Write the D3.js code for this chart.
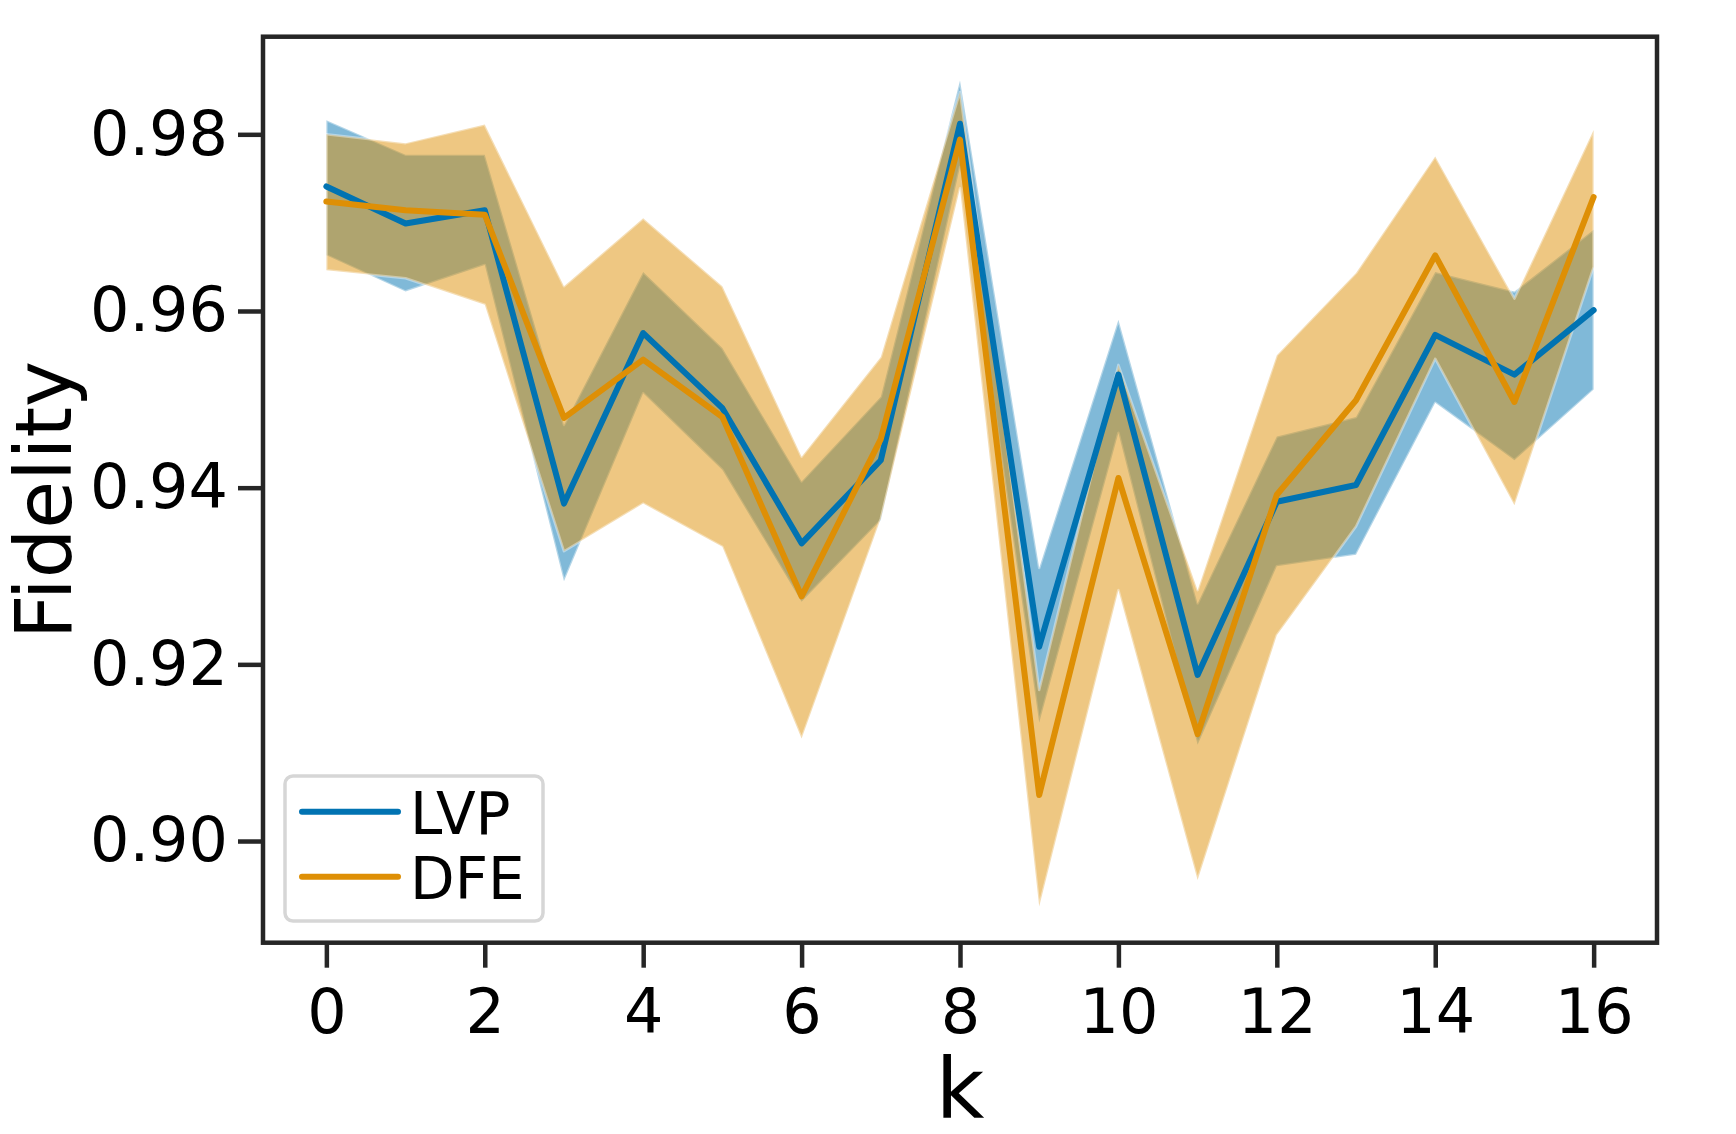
<!DOCTYPE html>
<html>
<head>
<meta charset="utf-8">
<script src="https://cdn.jsdelivr.net/npm/d3@7"></script>
<style>
  html, body { margin: 0; padding: 0; background: #fff; }
  svg { display: block; }
</style>
</head>
<body>
<div id="chart"></div>
<script>
const WIDTH = 1736;
const HEIGHT = 1134;

// plot box (pixels)
const LEFT = 263, RIGHT = 1657, TOP = 36.7, BOTTOM = 942.7;

// data
const K = [0, 1, 2, 3, 4, 5, 6, 7, 8, 9, 10, 11, 12, 13, 14, 15, 16];

const lvpMean  = [0.9741, 0.9699, 0.9714, 0.9382, 0.9575, 0.9490, 0.9337, 0.9431, 0.9812, 0.9220, 0.9528, 0.9188, 0.9384, 0.9403, 0.9573, 0.9528, 0.9601];
const lvpUpper = [0.9816, 0.9777, 0.9777, 0.9471, 0.9644, 0.9558, 0.9407, 0.9503, 0.9861, 0.9309, 0.9590, 0.9269, 0.9458, 0.9480, 0.9644, 0.9622, 0.9692];
const lvpLower = [0.9663, 0.9622, 0.9652, 0.9294, 0.9507, 0.9420, 0.9271, 0.9363, 0.9763, 0.9134, 0.9462, 0.9109, 0.9311, 0.9324, 0.9496, 0.9431, 0.9511];

const dfeMean  = [0.9724, 0.9714, 0.9709, 0.9479, 0.9545, 0.9480, 0.9277, 0.9455, 0.9794, 0.9052, 0.9411, 0.9121, 0.9392, 0.9499, 0.9663, 0.9497, 0.9729];
const dfeUpper = [0.9800, 0.9790, 0.9811, 0.9628, 0.9705, 0.9628, 0.9435, 0.9548, 0.9848, 0.9171, 0.9539, 0.9284, 0.9550, 0.9643, 0.9775, 0.9614, 0.9805];
const dfeLower = [0.9646, 0.9637, 0.9607, 0.9328, 0.9382, 0.9333, 0.9116, 0.9365, 0.9739, 0.8926, 0.9284, 0.8956, 0.9233, 0.9356, 0.9546, 0.9380, 0.9650];

const SERIES_NAMES = ["LVP", "DFE"];
const SERIES_COLORS = ["#0173B2", "#DE8F05"];

const X_TICKS = [0, 2, 4, 6, 8, 10, 12, 14, 16];
const Y_TICKS = [0.90, 0.92, 0.94, 0.96, 0.98];

const X_DOMAIN = [-0.8, 16.8];
const Y_DOMAIN = [0.88849, 0.99105];

const FONT = "DejaVu Sans";
const INK = "#262626";

const svg = d3.select("#chart").append("svg")
    .attr("width", WIDTH)
    .attr("height", HEIGHT);

svg.append("rect")
    .attr("width", WIDTH)
    .attr("height", HEIGHT)
    .attr("fill", "#fff");

const x = d3.scaleLinear().domain(X_DOMAIN).range([LEFT, RIGHT]);
const y = d3.scaleLinear().domain(Y_DOMAIN).range([BOTTOM, TOP]);

const series = [
    { mean: lvpMean, lower: lvpLower, upper: lvpUpper },
    { mean: dfeMean, lower: dfeLower, upper: dfeUpper }
];

const area = d3.area()
    .x(i => x(K[i]))
    .y0((i, j, arr) => y(arr.s.lower[i]))
    .y1((i, j, arr) => y(arr.s.upper[i]));

const line = d3.line()
    .x(i => x(K[i]))
    .y((i, j, arr) => y(arr.s.mean[i]));

const plot = svg.append("g");

// bands first
series.forEach((s, n) => {
    const idx = K.map((_, i) => i);
    idx.s = s;
    plot.append("path")
        .attr("d", area(idx))
        .attr("fill", SERIES_COLORS[n])
        .attr("fill-opacity", 0.5)
        .attr("stroke", "#fff")
        .attr("stroke-opacity", 0.4)
        .attr("stroke-width", 2.5)
        .attr("stroke-linejoin", "round");
});

// then lines
series.forEach((s, n) => {
    const idx = K.map((_, i) => i);
    idx.s = s;
    plot.append("path")
        .attr("d", line(idx))
        .attr("fill", "none")
        .attr("stroke", SERIES_COLORS[n])
        .attr("stroke-width", 6)
        .attr("stroke-linejoin", "round")
        .attr("stroke-linecap", "round");
});

// axes
const xAxis = svg.append("g")
    .attr("transform", "translate(0," + BOTTOM + ")")
    .call(d3.axisBottom(x).tickValues(X_TICKS).tickFormat(d3.format("d")).tickSize(25).tickPadding(0));

const yAxis = svg.append("g")
    .attr("transform", "translate(" + LEFT + ",0)")
    .call(d3.axisLeft(y).tickValues(Y_TICKS).tickFormat(d3.format(".2f")).tickSize(25).tickPadding(10));

[xAxis, yAxis].forEach(a => {
    a.select(".domain").remove();
    a.selectAll(".tick line").attr("stroke", INK).attr("stroke-width", 4.5);
    a.selectAll(".tick text")
        .attr("fill", "#000")
        .style("font-family", FONT)
        .style("font-size", "62px");
});

xAxis.selectAll(".tick text").attr("y", 90).attr("dy", null);
yAxis.selectAll(".tick text").attr("dy", "0.32em");

// spines
svg.append("rect")
    .attr("x", LEFT)
    .attr("y", TOP)
    .attr("width", RIGHT - LEFT)
    .attr("height", BOTTOM - TOP)
    .attr("fill", "none")
    .attr("stroke", INK)
    .attr("stroke-width", 4.5);

// axis labels
svg.append("text")
    .attr("x", (LEFT + RIGHT) / 2)
    .attr("y", 1118)
    .attr("text-anchor", "middle")
    .style("font-family", FONT)
    .style("font-size", "84px")
    .text("k");

svg.append("text")
    .attr("transform", "translate(71,500) rotate(-90)")
    .attr("text-anchor", "middle")
    .style("font-family", FONT)
    .style("font-size", "78px")
    .text("Fidelity");

// legend
const legend = svg.append("g");

legend.append("rect")
    .attr("x", 285)
    .attr("y", 776)
    .attr("width", 258)
    .attr("height", 145)
    .attr("rx", 8)
    .attr("fill", "#fff")
    .attr("fill-opacity", 0.8)
    .attr("stroke", "#d6d6d6")
    .attr("stroke-width", 3.5);

SERIES_NAMES.forEach((name, n) => {
    const ly = 811.7 + n * 65;
    legend.append("line")
        .attr("x1", 302).attr("x2", 398)
        .attr("y1", ly).attr("y2", ly)
        .attr("stroke", SERIES_COLORS[n])
        .attr("stroke-width", 6)
        .attr("stroke-linecap", "round");
    legend.append("text")
        .attr("x", 410)
        .attr("y", ly + 22)
        .style("font-family", FONT)
        .style("font-size", "58px")
        .attr("fill", "#000")
        .text(name);
});
</script>
</body>
</html>
